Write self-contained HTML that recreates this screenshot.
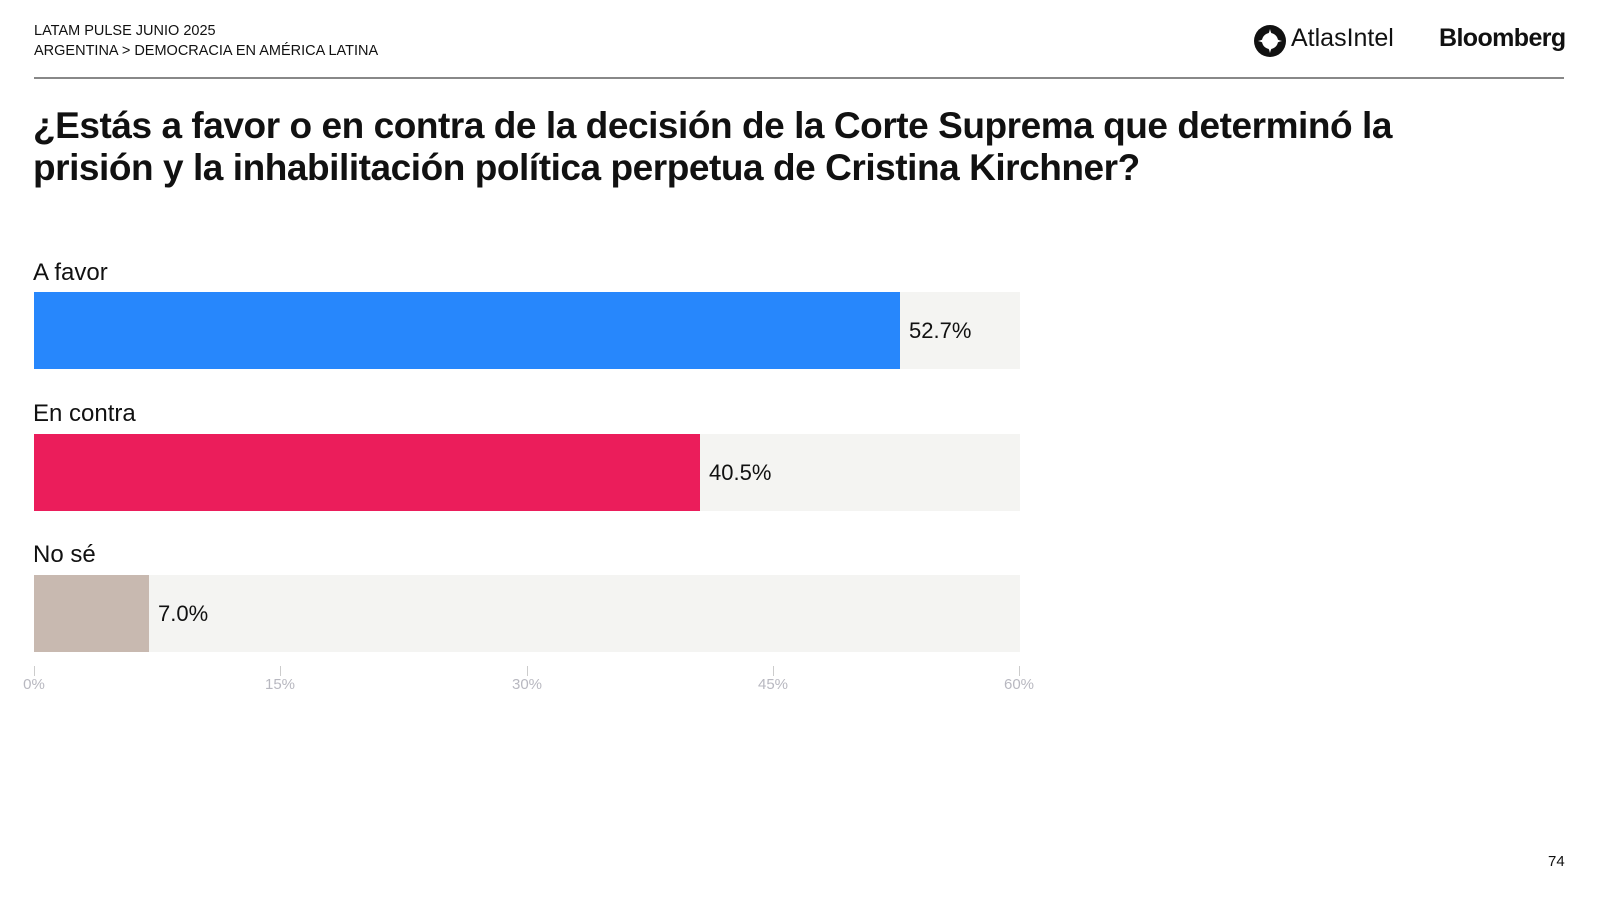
<!DOCTYPE html>
<html><head><meta charset="utf-8"><style>
body{margin:0;width:1600px;height:900px;background:#fff;font-family:"Liberation Sans","DejaVu Sans",sans-serif;color:#111;position:relative;overflow:hidden}
.a{position:absolute;white-space:nowrap}
.track{position:absolute;left:34px;width:986px;height:77px;background:#f4f4f2}
.bar{position:absolute;left:0;top:0;height:77px}
.val{position:absolute;font-size:22px;top:26px}
.lab{font-size:24px}
.tick{position:absolute;top:666px;width:1px;height:10px;background:#ccc}
.tl{position:absolute;top:676px;font-size:15px;color:#b8b8c0;width:60px;text-align:center;margin-left:-30px}
</style></head><body>
<div class="a" style="left:34px;top:23px;font-size:14.5px">LATAM PULSE JUNIO 2025</div>
<div class="a" style="left:34px;top:43px;font-size:14.5px">ARGENTINA &gt; DEMOCRACIA EN AMÉRICA LATINA</div>
<svg class="a" style="left:1253px;top:24px" width="34" height="34" viewBox="0 0 34 34"><circle cx="17" cy="17" r="16" fill="#111"/><path d="M17 5 Q19 15 29 17 Q19 19 17 29 Q15 19 5 17 Q15 15 17 5Z" fill="#fff"/><circle cx="17" cy="17" r="8" fill="#fff"/></svg>
<div class="a" style="left:1291px;top:24px;font-size:25px">AtlasIntel</div>
<div class="a" style="left:1439px;top:24px;font-size:25px;font-weight:bold;letter-spacing:-0.6px">Bloomberg</div>
<div class="a" style="left:34px;top:77px;width:1530px;height:2px;background:#888"></div>
<div class="a" style="left:33px;top:105px;font-size:37px;font-weight:bold;line-height:42px;letter-spacing:-0.45px">¿Estás a favor o en contra de la decisión de la Corte Suprema que determinó la<br>prisión y la inhabilitación política perpetua de Cristina Kirchner?</div>
<div class="a lab" style="left:33px;top:259px">A favor</div>
<div class="track" style="top:292px"><div class="bar" style="width:866px;background:#2787fc"></div><div class="val" style="left:875px">52.7%</div></div>
<div class="a lab" style="left:33px;top:400px">En contra</div>
<div class="track" style="top:434px"><div class="bar" style="width:666px;background:#eb1d5b"></div><div class="val" style="left:675px">40.5%</div></div>
<div class="a lab" style="left:33px;top:541px">No sé</div>
<div class="track" style="top:575px"><div class="bar" style="width:115px;background:#c8b9b0"></div><div class="val" style="left:124px">7.0%</div></div>
<div class="tick" style="left:34px"></div><div class="tick" style="left:280px"></div><div class="tick" style="left:527px"></div><div class="tick" style="left:773px"></div><div class="tick" style="left:1019px"></div>
<div class="tl" style="left:34px">0%</div><div class="tl" style="left:280px">15%</div><div class="tl" style="left:527px">30%</div><div class="tl" style="left:773px">45%</div><div class="tl" style="left:1019px">60%</div>
<div class="a" style="left:1548px;top:853px;font-size:15px">74</div>
</body></html>
